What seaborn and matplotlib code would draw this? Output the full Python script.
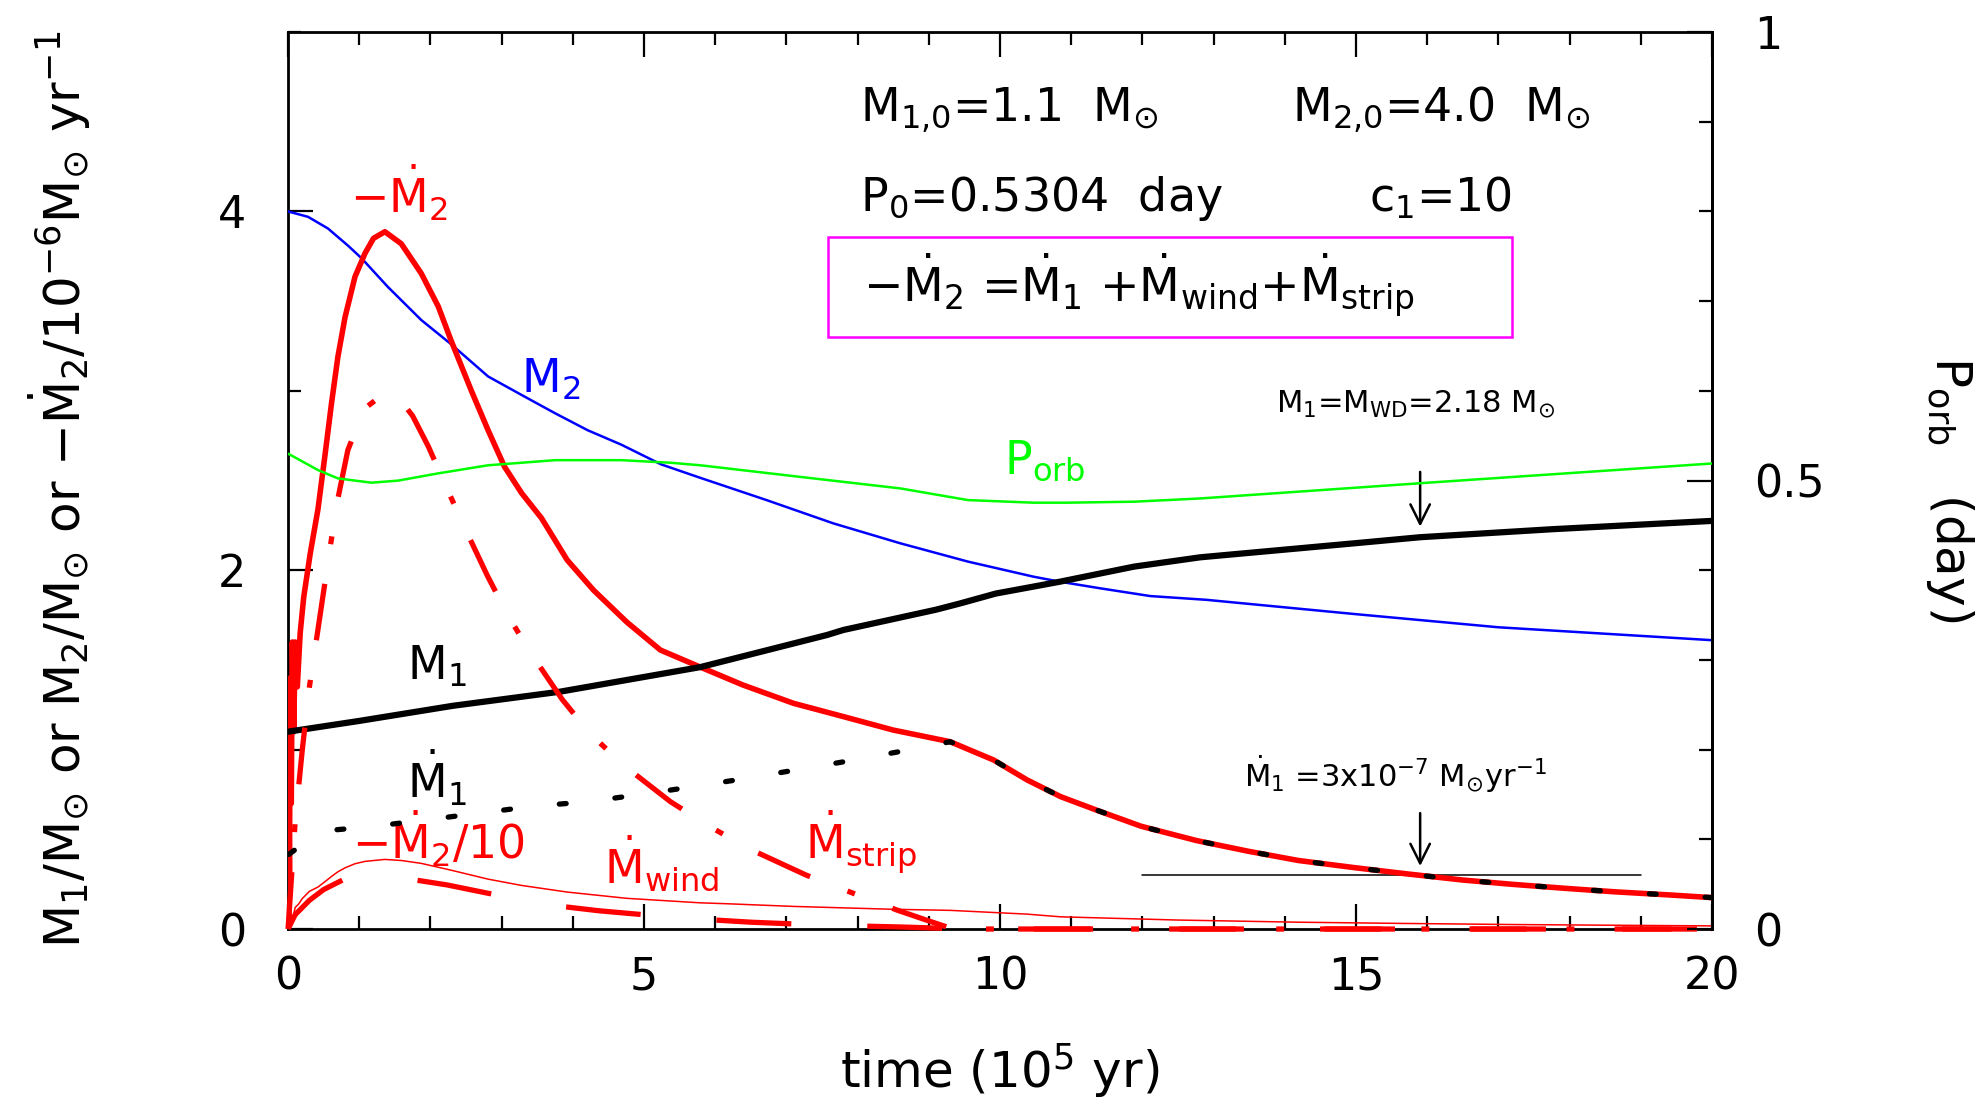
import matplotlib
matplotlib.use("Agg")
import matplotlib.pyplot as plt
import seaborn as sns
from matplotlib.ticker import MultipleLocator
from matplotlib.patches import Rectangle

# ---------------- data (time in 1e5 yr) ----------------
t_m1 = [0, 1.0, 2.31, 3.82, 5.79, 7.57, 7.8, 9.1, 9.44, 9.94, 10.84, 11.88, 12.81, 15.0, 15.9, 17.77, 20]
m1 = [1.10, 1.16, 1.244, 1.323, 1.46, 1.639, 1.667, 1.78, 1.815, 1.87, 1.936, 2.02, 2.072, 2.151, 2.184, 2.229, 2.275]

t_m2 = [0, 0.28, 0.56, 0.84, 1.03, 1.40, 1.87, 2.29, 2.81, 3.28, 3.75, 4.21, 4.68, 5.24, 5.79, 6.72,
        7.66, 8.6, 9.55, 10.47, 10.84, 11.41, 12.11, 12.9, 15.0, 17.0, 20]
m2 = [4.0, 3.97, 3.905, 3.81, 3.74, 3.58, 3.395, 3.26, 3.08, 2.977, 2.875, 2.78, 2.70, 2.59, 2.515, 2.391,
      2.261, 2.15, 2.048, 1.964, 1.936, 1.899, 1.856, 1.835, 1.755, 1.682, 1.61]

t_porb = [0, 0.42, 0.70, 1.17, 1.545, 2.11, 2.81, 3.75, 4.68, 5.38, 5.79, 7.19, 8.6, 9.55, 10.47,
          10.94, 11.88, 12.81, 15.9, 20]
porb = [0.530, 0.5117, 0.5024, 0.4976, 0.4999, 0.508, 0.517, 0.5227, 0.5227, 0.5198, 0.517, 0.5041,
        0.4912, 0.4782, 0.4753, 0.4753, 0.4764, 0.480, 0.497, 0.519]

t_m2dot = [0, 0.01, 0.02, 0.03, 0.045, 0.06, 0.08, 0.1, 0.13, 0.17, 0.22, 0.31, 0.42, 0.515, 0.61,
           0.70, 0.80, 0.94, 1.08, 1.2, 1.36, 1.59, 1.87, 2.11, 2.29, 2.575, 2.81, 3.04, 3.28, 3.56,
           3.92, 4.29, 4.76, 5.23, 5.79, 6.39, 7.1, 7.8, 8.5, 9.3, 9.91, 10.38, 10.85, 11.34, 11.98,
           12.76, 13.48, 14.19, 14.98, 15.7, 16.5, 17.2, 17.93, 18.65, 19.4, 20]
m2dot = [0, 0.9, 0.3, 1.4, 0.7, 1.6, 1.1, 1.6, 1.35, 1.65, 1.85, 2.09, 2.34, 2.63, 2.93,
         3.19, 3.41, 3.636, 3.766, 3.85, 3.887, 3.82, 3.655, 3.47, 3.28, 3.0, 2.78, 2.577, 2.43, 2.29,
         2.057, 1.889, 1.71, 1.555, 1.46, 1.36, 1.258, 1.184, 1.109, 1.044, 0.942, 0.831, 0.738, 0.665, 0.573,
         0.493, 0.434, 0.382, 0.342, 0.308, 0.273, 0.249, 0.227, 0.207, 0.19, 0.175]

t_m1dot = [0.01, 0.45, 1.22, 1.97, 2.71, 3.44, 4.22, 4.97, 5.7, 6.44, 7.18, 7.92, 8.67, 9.3,
           9.91, 10.38, 10.85, 11.34, 11.98, 12.76, 13.48, 14.19, 14.98, 15.7, 16.5, 17.2, 17.93,
           18.65, 19.4, 20]
m1dot = [0.416, 0.545, 0.573, 0.61, 0.647, 0.684, 0.71, 0.751, 0.794, 0.84, 0.89, 0.94, 0.995, 1.044,
         0.942, 0.831, 0.738, 0.665, 0.573, 0.493, 0.434, 0.382, 0.342, 0.308, 0.273, 0.249, 0.227,
         0.207, 0.19, 0.175]

t_strip = [0, 0.1, 0.2, 0.3, 0.45, 0.6, 0.69, 0.84, 1.07, 1.3, 1.57, 1.75, 1.97, 2.22, 2.47, 2.8,
           3.09, 3.4, 3.85, 4.24, 4.71, 5.37, 5.93, 6.51, 7.28, 7.94, 8.55, 9.0, 9.34, 12, 16, 20]
mstrip = [0, 0.6, 1.0, 1.35, 1.75, 2.15, 2.38, 2.67, 2.90, 2.97, 2.953, 2.86, 2.69, 2.466, 2.246, 1.969,
          1.747, 1.543, 1.28, 1.09, 0.914, 0.71, 0.569, 0.441, 0.30, 0.199, 0.106, 0.045, 0.0, 0, 0, 0]

t_wind = [0, 0.1, 0.3, 0.5, 0.8, 1.18, 1.6, 2.23, 2.8, 3.27, 3.82, 4.36, 4.9, 5.4, 6.0, 6.5,
          7.0, 7.55, 8.1, 8.64, 9.2, 9.6, 12, 16, 20]
mwind = [0, 0.08, 0.16, 0.22, 0.28, 0.296, 0.285, 0.246, 0.2, 0.166, 0.127, 0.102, 0.083, 0.066, 0.05, 0.038,
         0.03, 0.022, 0.016, 0.011, 0.004, 0, 0, 0, 0]

t_m2dot10 = [0, 0.03, 0.06, 0.1, 0.15, 0.2, 0.3, 0.42, 0.515, 0.61, 0.70, 0.80, 0.94, 1.08, 1.36,
             1.59, 1.87, 2.29, 2.81, 3.28, 3.92, 4.76, 5.79, 6.16, 7.1, 8.5, 9.3, 10.38, 10.85,
             12.5, 14.19, 15.7, 17.2, 18.65, 20]
m2dot10 = [0, 0.11, 0.05, 0.12, 0.14, 0.17, 0.21, 0.234, 0.263, 0.293, 0.319, 0.341, 0.364, 0.377, 0.388,
           0.382, 0.366, 0.328, 0.278, 0.243, 0.206, 0.171, 0.146, 0.141, 0.126, 0.11, 0.104, 0.083, 0.068,
           0.05, 0.038, 0.031, 0.025, 0.021, 0.0175]

t_ref = [12, 19]
ref_rate = [0.3, 0.3]

x_ticks = [0, 5, 10, 15, 20]
x_ticklabels = ["0", "5", "10", "15", "20"]
y_ticks = [0, 2, 4]
y_ticklabels = ["0", "2", "4"]
y2_ticks = [0, 0.5, 1]
y2_ticklabels = ["0", "0.5", "1"]

# ---------------- style ----------------
sns.set_theme(style="ticks", rc={
    "axes.edgecolor": "black", "xtick.color": "black", "ytick.color": "black",
    "text.color": "black", "axes.labelcolor": "black", "axes.linewidth": 2.0,
})
plt.rcParams["font.family"] = ["DejaVu Sans"]
plt.rcParams["mathtext.fontset"] = "dejavusans"
plt.rcParams["mathtext.default"] = "regular"

RED = "#ff0000"
SUN = "\u2299"
fig = plt.figure(figsize=(19.88, 11.01), dpi=100)
ax = fig.add_axes([0.1449, 0.1562, 0.7163, 0.8147])
ax2 = ax.twinx()


def line(axis, x, y, zorder=3, clip=True, **kw):
    n0 = len(axis.lines)
    sns.lineplot(x=x, y=y, ax=axis, sort=False, estimator=None, **kw)
    for ln in axis.lines[n0:]:
        ln.set_zorder(zorder)
        ln.set_clip_on(clip)


line(ax, t_m2, m2, color="#0000ff", linewidth=1.8, zorder=3)
line(ax, t_m2dot10, m2dot10, color=RED, linewidth=1.1, zorder=3)
line(ax, t_wind, mwind, color=RED, linewidth=3.8, linestyle=(0, (14.2, 14.4)), zorder=10, clip=False)
line(ax, t_strip, mstrip, color=RED, linewidth=3.8, linestyle=(0, (10.8, 7.6, 1.5, 7.6)),
     zorder=10, clip=False)
line(ax, t_m2dot, m2dot, color=RED, linewidth=4.0, zorder=4)
line(ax, t_m1, m1, color="black", linewidth=4.5, zorder=4)
line(ax, t_m1dot, m1dot, color="black", linewidth=3.8, linestyle=(0, (1.3, 9.3)),
     dash_capstyle="round", zorder=5)
line(ax, t_ref, ref_rate, color="black", linewidth=1.1, zorder=3)
line(ax2, t_porb, porb, color="#00ff00", linewidth=1.8, zorder=3)

# ---------------- axes ----------------
ax.set_xlim(0, 20)
ax.set_ylim(0, 5)
ax2.set_ylim(0, 1)
ax.set_xticks(x_ticks, labels=x_ticklabels)
ax.set_yticks(y_ticks, labels=y_ticklabels)
ax.xaxis.set_minor_locator(MultipleLocator(1))
ax.yaxis.set_minor_locator(MultipleLocator(1))
ax2.set_yticks(y2_ticks, labels=y2_ticklabels)
ax2.yaxis.set_minor_locator(MultipleLocator(0.1))

ax.tick_params(axis="both", which="both", direction="in", top=True, bottom=True,
               left=True, right=False, width=1.6, labelsize=32)
ax.tick_params(which="major", length=18)
ax.tick_params(which="minor", length=9.5)
ax.tick_params(axis="x", pad=19)
ax.tick_params(axis="y", pad=30)
ax2.tick_params(axis="y", which="both", direction="in", width=1.6, labelsize=32, pad=30)
ax2.tick_params(axis="y", which="major", length=18)
ax2.tick_params(axis="y", which="minor", length=9.5)
for s in ax.spines.values():
    s.set_linewidth(2.0)
    s.set_color("black")
    s.set_zorder(2.5)
for name, s in ax2.spines.items():
    s.set_linewidth(2.0)
    s.set_color("black")
    if name != "right":
        s.set_visible(False)

ax.set_xlabel(r"time (10$^5$ yr)", fontsize=36, va="center")
ax.xaxis.set_label_coords(0.5, -0.158)
ax.set_ylabel(r"$M_1/M_%s$ or $M_2/M_%s$ or $-\dot{M}_2/10^{-6}M_%s\ yr^{-1}$" % (SUN, SUN, SUN),
              fontsize=36, va="center", ha="center")
ax.yaxis.set_label_coords(-0.160, 0.490)
ax2.set_ylabel(r"$P_{orb}$   (day)", fontsize=36, rotation=270, va="center", ha="center")
ax2.yaxis.set_label_coords(1.167, 0.49)

# ---------------- annotations ----------------
FS = 33
ax.text(8.03, 4.50, r"$M_{1{,}0}$=1.1  $M_%s$" % SUN, fontsize=FS, va="baseline")
ax.text(14.1, 4.50, r"$M_{2{,}0}$=4.0  $M_%s$" % SUN, fontsize=FS, va="baseline")
ax.text(8.03, 4.00, r"$P_0$=0.5304  day", fontsize=FS, va="baseline")
ax.text(15.18, 4.00, r"$c_1$=10", fontsize=FS, va="baseline")
ax.text(8.08, 3.495, r"$-\dot{M}_2$ =$\dot{M}_1$ +$\dot{M}_{wind}$+$\dot{M}_{strip}$",
        fontsize=34, va="baseline")
ax.add_patch(Rectangle((7.58, 3.30), 9.61, 0.557, fill=False, edgecolor="#ff00ff",
                       linewidth=1.8, zorder=6))

ax.text(13.88, 2.88, r"$M_1$=$M_{WD}$=2.18 $M_%s$" % SUN, fontsize=22, va="baseline")
ax.text(13.43, 0.794, r"$\dot{M}_1$ =3x10$^{-7}$ $M_%s$yr$^{-1}$" % SUN, fontsize=22, va="baseline")
arrow = dict(arrowstyle="->,head_length=0.7,head_width=0.35", color="black", lw=1.8,
             shrinkA=0, shrinkB=0, mutation_scale=20)
ax.annotate("", xy=(15.9, 2.243), xytext=(15.9, 2.548), arrowprops=arrow)
ax.annotate("", xy=(15.9, 0.351), xytext=(15.9, 0.646), arrowprops=arrow)

ax.text(0.87, 3.99, r"$-\dot{M}_2$", fontsize=FS, color=RED, va="baseline")
ax.text(3.27, 2.99, r"$M_2$", fontsize=FS, color="#0000ff", va="baseline")
ax.text(10.06, 2.54, r"$P_{orb}$", fontsize=FS, color="#00ff00", va="baseline")
ax.text(1.67, 1.39, r"$M_1$", fontsize=FS, color="black", va="baseline")
ax.text(1.67, 0.73, r"$\dot{M}_1$", fontsize=FS, color="black", va="baseline")
ax.text(0.9, 0.385, r"$-\dot{M}_2/10$", fontsize=FS, color=RED, va="baseline")
ax.text(4.44, 0.256, r"$\dot{M}_{wind}$", fontsize=FS, color=RED, va="baseline")
ax.text(7.26, 0.385, r"$\dot{M}_{strip}$", fontsize=FS, color=RED, va="baseline")

fig.savefig("out.png", dpi=100)
